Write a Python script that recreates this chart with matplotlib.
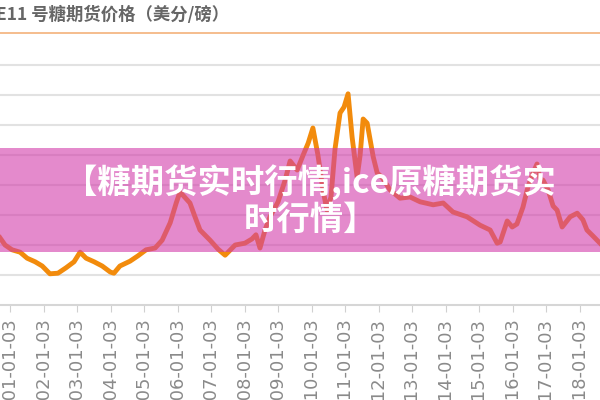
import matplotlib.pyplot as plt
from matplotlib.patches import Rectangle

plt.rcParams['font.family'] = ['Noto Sans CJK SC', 'DejaVu Sans']

# ICE No.11 sugar price (US cents / lb)
years = [2000.70, 2000.85, 2001.06, 2001.30, 2001.51, 2001.75, 2001.96, 2002.19,
         2002.43, 2002.67, 2002.91, 2003.09, 2003.27, 2003.51, 2003.75, 2003.99,
         2004.10, 2004.28, 2004.58, 2004.82, 2005.06, 2005.33, 2005.54, 2005.78,
         2005.96, 2006.07, 2006.16, 2006.37, 2006.52, 2006.67, 2006.97, 2007.21,
         2007.42, 2007.72, 2008.01, 2008.22, 2008.34, 2008.46, 2008.61, 2008.76,
         2009.00, 2009.21, 2009.36, 2009.57, 2009.75, 2009.90, 2010.04, 2010.19,
         2010.34, 2010.46, 2010.58, 2010.70, 2010.85, 2010.97, 2011.09, 2011.21,
         2011.36, 2011.45, 2011.54, 2011.66, 2011.84, 2011.96, 2012.10, 2012.34,
         2012.64, 2012.94, 2013.24, 2013.63, 2013.93, 2014.22, 2014.64, 2015.03,
         2015.33, 2015.54, 2015.63, 2015.84, 2015.99, 2016.13, 2016.31, 2016.46,
         2016.61, 2016.73, 2016.82, 2016.91, 2017.06, 2017.21, 2017.33, 2017.48,
         2017.72, 2017.93, 2018.10, 2018.22, 2018.40, 2018.61]
price = [11.2, 10.0, 9.2, 8.8, 7.8, 7.2, 6.5, 5.2,
         5.3, 6.2, 7.2, 8.8, 7.8, 7.2, 6.5, 5.5,
         5.3, 6.5, 7.3, 8.2, 9.2, 9.5, 10.8, 13.7,
         17.0, 18.8, 18.3, 17.0, 14.7, 12.5, 10.8, 9.3,
         8.3, 10.0, 10.3, 11.0, 11.7, 9.5, 12.5, 14.7,
         17.2, 20.8, 24.0, 22.5, 25.0, 27.0, 29.5, 25.0,
         19.2, 15.8, 18.0, 26.0, 32.0, 33.0, 35.2, 28.0,
         21.3, 25.0, 31.0, 30.3, 24.7, 22.0, 21.3, 19.2,
         17.8, 18.0, 17.2, 16.7, 17.0, 15.5, 14.7, 13.3,
         12.5, 10.3, 10.5, 14.0, 13.0, 13.5, 16.3, 19.7,
         22.0, 23.5, 21.0, 20.8, 19.2, 16.5, 15.8, 13.0,
         14.7, 15.3, 14.2, 12.5, 11.5, 10.3]

tick_years = list(range(2001, 2019))
tick_labels = [f'{y}-01-03' for y in tick_years]
grid_vals = [5, 10, 15, 20, 25, 30, 35, 40]

title = 'ICE11 号糖期货价格（美分/磅）'
banner = '【糖期货实时行情,ice原糖期货实\n时行情】'

fig = plt.figure(figsize=(6, 4), dpi=100)
ax = fig.add_axes([0, 0.2375, 1, 0.6375])

ax.plot(years, price, color='#f28b0c', lw=3.5, solid_joinstyle='round', zorder=3)

ax.set_xlim(2000.70, 2018.61)
ax.set_ylim(0, 42.5)
ax.set_yticks(grid_vals)
ax.set_yticklabels([])
ax.tick_params(axis='y', length=0)
ax.grid(axis='y', color='#e2e2e2', lw=1.5)
ax.set_axisbelow(True)

ax.set_xticks(tick_years)
ax.set_xticklabels(tick_labels, rotation=90, va='top', color='#8a8a8a',
                   fontsize=13, family='DejaVu Sans')
ax.tick_params(axis='x', length=5, color='#d0d0d0', pad=4)

for s in ['top', 'left', 'right']:
    ax.spines[s].set_visible(False)
ax.spines['bottom'].set_color('#d6d6d6')
ax.spines['bottom'].set_linewidth(1.5)

# header
fig.text(-0.035, 0.962, title, fontsize=12.5, fontweight='bold', color='#666666',
         va='center', ha='left')
fig.add_artist(plt.Line2D([0, 1], [0.917, 0.917], color='#f3b27a', lw=1.2))

# pink banner over the chart
fig.add_artist(Rectangle((0, 0.37), 1, 0.26, transform=fig.transFigure,
                         facecolor='#d23caa', alpha=0.6, edgecolor='none', zorder=5))
fig.text(0.517, 0.5, banner, fontsize=24, fontweight='black', color='white',
         ha='center', va='center', multialignment='center', linespacing=1.15, zorder=6)

fig.savefig('out.png', dpi=100)
plt.close('all')
